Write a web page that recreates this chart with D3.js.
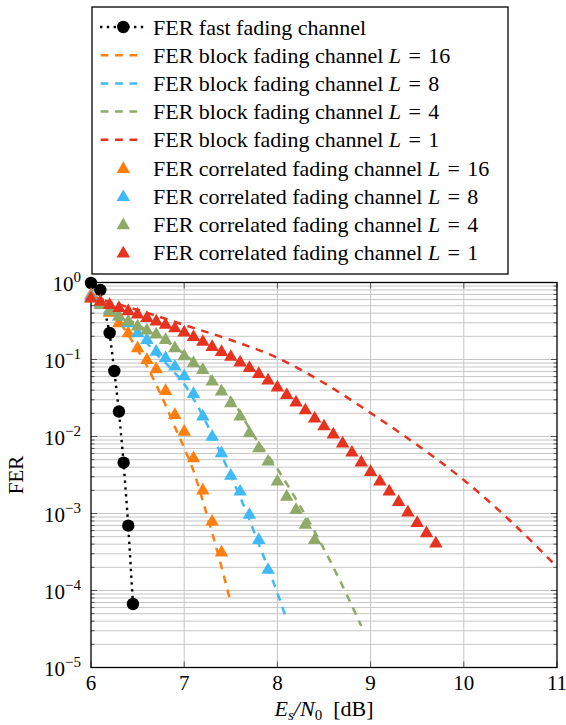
<!DOCTYPE html>
<html lang="en">
<head>
<meta charset="UTF-8">
<title>FER vs Es/N0</title>
<script src="https://d3js.org/d3.v7.min.js"></script>
<style>
  body { margin: 0; background: #fff; }
  text { font-family: "Liberation Serif", "DejaVu Serif", serif; fill: #000; }
</style>
</head>
<body>
<svg id="chart" width="566" height="725"></svg>
<script>
// ---- data ----
var fastX = [6.0, 6.1, 6.2, 6.25, 6.3, 6.35, 6.4, 6.45];
var fastFER = [0.985, 0.80, 0.221, 0.0709, 0.0211, 0.00457, 0.000695, 0.0000668];

var block16X = [6.0, 6.1, 6.2, 6.3, 6.4, 6.5, 6.6, 6.7, 6.8, 6.9, 7.0, 7.1, 7.2, 7.3, 7.4, 7.5];
var block16 = [0.731, 0.593, 0.44, 0.316, 0.208, 0.133, 0.0824, 0.0467, 0.0256, 0.0133, 0.0071, 0.00357, 0.00145, 0.000558, 0.000202, 0.000069];

var block8X = [6.0, 6.1, 6.2, 6.3, 6.4, 6.5, 6.6, 6.7, 6.8, 6.9, 7.0, 7.1, 7.2, 7.3, 7.4, 7.5, 7.6, 7.7, 7.8, 7.9, 8.0, 8.1];
var block8 = [0.709, 0.593, 0.481, 0.39, 0.307, 0.221, 0.164, 0.118, 0.0901, 0.0668, 0.0481, 0.0307, 0.0185, 0.0105, 0.00575, 0.00307, 0.00164, 0.000824, 0.000402, 0.000196, 0.000093, 0.0000414];

var block4X = [6.0, 6.25, 6.5, 6.75, 7.0, 7.25, 7.5, 7.75, 8.0, 8.25, 8.5, 8.75, 8.9];
var block4 = [0.688, 0.44, 0.281, 0.19, 0.118, 0.0648, 0.0316, 0.0101, 0.00378, 0.00121, 0.000346, 0.000085, 0.0000346];

var block1X = [6.0, 6.5, 7.0, 7.5, 8.0, 8.5, 9.0, 9.5, 10.0, 10.5, 11.0];
var block1 = [0.648, 0.44, 0.281, 0.179, 0.105, 0.0495, 0.0202, 0.00776, 0.00272, 0.0008, 0.000202];

var corr16X = [6.0, 6.1, 6.2, 6.3, 6.4, 6.5, 6.6, 6.7, 6.8, 6.9, 7.0, 7.1, 7.2, 7.3, 7.4];
var corr16 = [0.688, 0.558, 0.402, 0.295, 0.219, 0.140, 0.0985, 0.0746, 0.039, 0.019, 0.0115, 0.00521, 0.00198, 0.000783, 0.00031];

var corr8X = [6.0, 6.1, 6.2, 6.3, 6.4, 6.5, 6.6, 6.7, 6.8, 6.9, 7.0, 7.1, 7.2, 7.3, 7.4, 7.5, 7.6, 7.7, 7.8, 7.9];
var corr8 = [0.654, 0.542, 0.44, 0.36, 0.295, 0.219, 0.179, 0.126, 0.104, 0.0806, 0.0605, 0.0356, 0.0181, 0.00993, 0.00605, 0.00309, 0.00192, 0.000957, 0.000453, 0.000185];

var corr4X = [6.0, 6.1, 6.2, 6.3, 6.4, 6.5, 6.6, 6.7, 6.8, 6.9, 7.0, 7.1, 7.2, 7.3, 7.4, 7.5, 7.6, 7.7, 7.8, 7.9, 8.0, 8.1, 8.2, 8.3, 8.4];
var corr4 = [0.623, 0.51, 0.418, 0.362, 0.31, 0.268, 0.238, 0.211, 0.179, 0.14, 0.11, 0.0893, 0.0731, 0.0515, 0.0382, 0.027, 0.0181, 0.011, 0.00703, 0.00471, 0.00259, 0.00165, 0.00111, 0.00071, 0.000453];

var corr1X = [6.0, 6.1, 6.2, 6.3, 6.4, 6.5, 6.6, 6.7, 6.8, 6.9, 7.0, 7.1, 7.2, 7.3, 7.4, 7.5, 7.6, 7.7, 7.8, 7.9,
              8.0, 8.1, 8.2, 8.3, 8.4, 8.5, 8.6, 8.7, 8.8, 8.9, 9.0, 9.1, 9.2, 9.3, 9.4, 9.5, 9.6, 9.7];
var corr1 = [0.620, 0.562, 0.510, 0.466, 0.423, 0.384, 0.346, 0.311, 0.281, 0.253, 0.224, 0.196, 0.169, 0.145, 0.125, 0.108, 0.0914, 0.0776, 0.0648, 0.0534,
             0.0433, 0.0346, 0.0276, 0.0218, 0.0171, 0.0135, 0.0106, 0.00811, 0.00616, 0.00459, 0.00346, 0.00260, 0.00193, 0.00141, 0.00103, 0.000753, 0.000553, 0.000408];

var xTicks = [6, 7, 8, 9, 10, 11];
var yExponents = [0, -1, -2, -3, -4, -5];

var colOrange = "#ff7f0e", colBlue = "#3fbaf6", colGreen = "#8fa968", colRed = "#e5331f";

var legendItems = [
  {kind: "fast", text: "FER fast fading channel", L: null},
  {kind: "dash", color: colOrange, text: "FER block fading channel ", L: "16"},
  {kind: "dash", color: colBlue, text: "FER block fading channel ", L: "8"},
  {kind: "dash", color: colGreen, text: "FER block fading channel ", L: "4"},
  {kind: "dash", color: colRed, text: "FER block fading channel ", L: "1"},
  {kind: "tri", color: colOrange, text: "FER correlated fading channel ", L: "16"},
  {kind: "tri", color: colBlue, text: "FER correlated fading channel ", L: "8"},
  {kind: "tri", color: colGreen, text: "FER correlated fading channel ", L: "4"},
  {kind: "tri", color: colRed, text: "FER correlated fading channel ", L: "1"}
];

// ---- layout ----
var plotLeft = 91, plotRight = 557, plotTop = 282.5, plotBottom = 667.5;
var svg = d3.select("#chart");
var x = d3.scaleLinear().domain([6, 11]).range([plotLeft, plotRight]);
var y = d3.scaleLog().domain([1e-5, 1]).range([plotBottom, plotTop]);

function zip(xs, ys) {
  return xs.map(function(v, i) { return [v, ys[i]]; });
}

// grid
var minorVals = [];
yExponents.forEach(function(e) {
  if (e === -5) return;
  for (var k = 2; k <= 9; k++) minorVals.push(k * Math.pow(10, e - 1));
});
var majorVals = yExponents.map(function(e) { return Math.pow(10, e); });

var grid = svg.append("g").attr("stroke", "#c6c6c6").attr("stroke-width", 1);
grid.selectAll("line.h").data(minorVals.concat(majorVals)).enter().append("line")
  .attr("x1", plotLeft).attr("x2", plotRight)
  .attr("y1", function(d) { return y(d); }).attr("y2", function(d) { return y(d); });
grid.selectAll("line.v").data(xTicks.slice(1, -1)).enter().append("line")
  .attr("y1", plotTop).attr("y2", plotBottom)
  .attr("x1", function(d) { return x(d); }).attr("x2", function(d) { return x(d); });

// tick marks (inward, both sides)
var ticks = svg.append("g").attr("stroke", "#555").attr("stroke-width", 1);
majorVals.concat(minorVals).forEach(function(v) {
  var len = majorVals.indexOf(v) >= 0 ? 6 : 3.5;
  ticks.append("line").attr("x1", plotLeft).attr("x2", plotLeft + len).attr("y1", y(v)).attr("y2", y(v));
  ticks.append("line").attr("x1", plotRight).attr("x2", plotRight - len).attr("y1", y(v)).attr("y2", y(v));
});
xTicks.forEach(function(v) {
  ticks.append("line").attr("x1", x(v)).attr("x2", x(v)).attr("y1", plotBottom).attr("y2", plotBottom - 6);
  ticks.append("line").attr("x1", x(v)).attr("x2", x(v)).attr("y1", plotTop).attr("y2", plotTop + 6);
});

// frame
svg.append("rect").attr("x", plotLeft).attr("y", plotTop)
  .attr("width", plotRight - plotLeft).attr("height", plotBottom - plotTop)
  .attr("fill", "none").attr("stroke", "#000").attr("stroke-width", 1.3);

// tick labels
svg.selectAll("text.xt").data(xTicks).enter().append("text")
  .attr("x", function(d) { return x(d); }).attr("y", plotBottom + 22)
  .attr("text-anchor", "middle").style("font-size", "21px")
  .text(function(d) { return d; });

var yl = svg.selectAll("text.yt").data(yExponents).enter().append("text")
  .attr("x", 81).attr("y", function(d) { return y(Math.pow(10, d)) + 8; })
  .attr("text-anchor", "end").style("font-size", "21px");
yl.append("tspan").text("10");
yl.append("tspan").attr("dy", -9).style("font-size", "15px")
  .text(function(d) { return d === 0 ? "0" : "\u2212" + (-d); });

// axis labels
var xl = svg.append("text").attr("x", (plotLeft + plotRight) / 2).attr("y", 716)
  .attr("text-anchor", "middle").style("font-size", "22px");
xl.append("tspan").style("font-style", "italic").text("E");
xl.append("tspan").attr("dy", 3.5).style("font-size", "15px").style("font-style", "italic").text("s");
xl.append("tspan").attr("dy", -3.5).style("font-style", "italic").text("/N");
xl.append("tspan").attr("dy", 3.5).style("font-size", "15px").text("0");
xl.append("tspan").attr("dy", -3.5).text("\u2002[dB]");

svg.append("text").attr("transform", "translate(23," + ((plotTop + plotBottom) / 2) + ") rotate(-90)")
  .attr("text-anchor", "middle").style("font-size", "21px").text("FER");

// ---- series ----
var line = d3.line()
  .x(function(d) { return x(d[0]); })
  .y(function(d) { return y(d[1]); });
var smooth = d3.line()
  .x(function(d) { return x(d[0]); })
  .y(function(d) { return y(d[1]); })
  .curve(d3.curveMonotoneX);

function triPath(r) {
  var s = r * Math.sqrt(3) / 2;
  return "M0," + (-r) + "L" + s + "," + (r / 2) + "L" + (-s) + "," + (r / 2) + "Z";
}

// fast fading
var fast = zip(fastX, fastFER);
svg.append("path").attr("d", line(fast)).attr("fill", "none")
  .attr("stroke", "#000").attr("stroke-width", 2.4).attr("stroke-dasharray", "2.4,4.4");
svg.selectAll("circle.fast").data(fast).enter().append("circle")
  .attr("cx", function(d) { return x(d[0]); }).attr("cy", function(d) { return y(d[1]); })
  .attr("r", 6.2).attr("fill", "#000");

// block fading (dashed)
[[block16X, block16, colOrange], [block8X, block8, colBlue], [block4X, block4, colGreen], [block1X, block1, colRed]]
  .forEach(function(s) {
    svg.append("path").attr("d", smooth(zip(s[0], s[1]))).attr("fill", "none")
      .attr("stroke", s[2]).attr("stroke-width", 2.5).attr("stroke-dasharray", "7.7,6.7");
  });

// correlated fading (triangles)
[[corr16X, corr16, colOrange], [corr8X, corr8, colBlue], [corr4X, corr4, colGreen], [corr1X, corr1, colRed]]
  .forEach(function(s) {
    svg.append("g").selectAll("path").data(zip(s[0], s[1])).enter().append("path")
      .attr("d", triPath(7.8))
      .attr("transform", function(d) { return "translate(" + x(d[0]) + "," + y(d[1]) + ")"; })
      .attr("fill", s[2]);
  });

// ---- legend ----
var lg = svg.append("g");
lg.append("rect").attr("x", 92).attr("y", 7).attr("width", 416).attr("height", 267)
  .attr("fill", "#fff").attr("stroke", "#000").attr("stroke-width", 1.3);
legendItems.forEach(function(it, i) {
  var cy = 27 + 28.2 * i;
  var g = lg.append("g");
  if (it.kind === "fast") {
    g.append("line").attr("x1", 100).attr("x2", 146).attr("y1", cy).attr("y2", cy)
      .attr("stroke", "#000").attr("stroke-width", 2.4).attr("stroke-dasharray", "2.4,4.4");
    g.append("circle").attr("cx", 123.3).attr("cy", cy).attr("r", 6.2).attr("fill", "#000");
  } else if (it.kind === "dash") {
    g.append("line").attr("x1", 100.7).attr("x2", 143).attr("y1", cy).attr("y2", cy)
      .attr("stroke", it.color).attr("stroke-width", 2.5).attr("stroke-dasharray", "7.7,6.7");
  } else {
    g.append("path").attr("d", triPath(7.8))
      .attr("transform", "translate(123.3," + (cy + 1) + ")").attr("fill", it.color);
  }
  var t = g.append("text").attr("x", 153).attr("y", cy + 7.5).style("font-size", "22px");
  t.append("tspan").text(it.text);
  if (it.L) {
    t.append("tspan").style("font-style", "italic").text("L");
    t.append("tspan").text("\u2004=\u2004" + it.L);
  }
});
</script>
</body>
</html>
